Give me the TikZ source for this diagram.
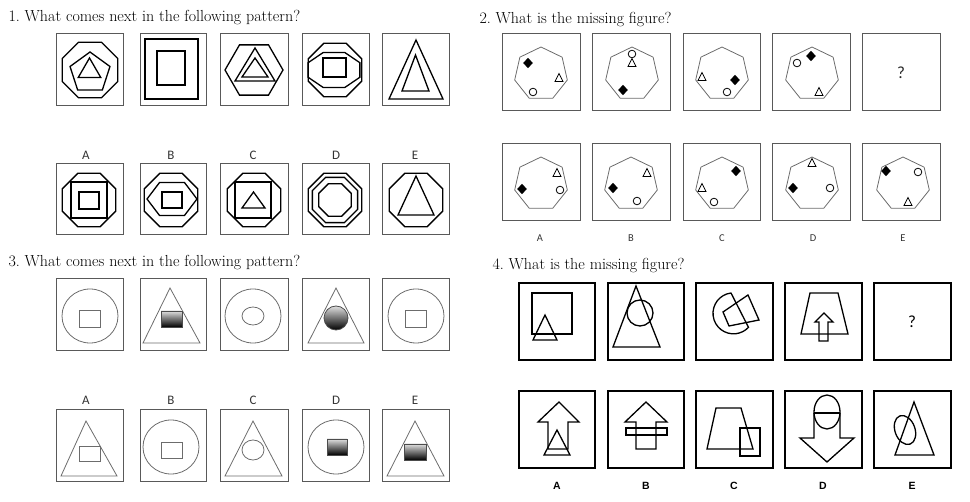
\documentclass[tikz,border=0pt]{standalone}
\usepackage{fontspec}
\newfontfamily\calib{Carlito}
\newfontfamily\arialb{Liberation Sans}
\usetikzlibrary{positioning}

% regular polygon: [style]{cx}{cy}{rx}{ry}{sides}{rotation}
\newcommand\ngon[7][]{\draw[#1] plot[samples at={0,...,#6}] ({#2+#4*cos(\x*360/#6+#7)},{#3+#5*sin(\x*360/#6+#7)}) -- cycle;}
\newcommand\diam[2]{\fill (#1,#2) +(-4.8,0) -- +(0,-5.2) -- +(4.8,0) -- +(0,5.2) -- cycle;}
\newcommand\ringmark[2]{\draw[symline] (#1,#2) circle (3.8);}
\newcommand\trimark[2]{\draw[symline] (#1,#2) +(0,-4.5) -- +(4,3.5) -- +(-4,3.5) -- cycle;}

\tikzset{
  figline/.style={line width=1.3pt, line join=miter},
  greyline/.style={gray!85!black, line width=0.8pt},
  symline/.style={line width=0.8pt},
  framebox/.style={draw=gray!70!black, line width=1pt},
  blackbox/.style={draw, line width=1.4pt},
  title/.style={anchor=west, font=\fontsize{16}{18}\selectfont},
  letter/.style={font=\calib\fontsize{13}{14}\selectfont, text=gray!40!black},
  bletter/.style={font=\arialb\bfseries\fontsize{10.5}{12}\selectfont},
  shadefill/.style={top color=gray!25, bottom color=black, draw=gray!60!black}
}

\begin{document}
\begin{tikzpicture}[x=1pt, y=-1pt]
\useasboundingbox (0,0) rectangle (970,502);

% titles
\node[title] (t1) at (5,18) {1.\ What comes next in the following pattern?};
\node[title] (t2) at (476,20) {2.\ What is the missing figure?};
\node[title] (t3) at (5,263) {3.\ What comes next in the following pattern?};
\node[title] (t4) at (489,266) {4.\ What is the missing figure?};

% frames
\foreach \xa/\xb in {56/123,140/206,220/288,302/369,382/449} {
  \draw[framebox] (\xa,34) rectangle (\xb,106);
  \draw[framebox] (\xa,164) rectangle (\xb,235);
  \draw[framebox] (\xa,279) rectangle (\xb,351);
  \draw[framebox] (\xa,410) rectangle (\xb,482);
}
\foreach \xa/\xb in {502/580,592/670,683/760,772/850,862/940} {
  \draw[framebox] (\xa,34) rectangle (\xb,111);
  \draw[framebox] (\xa,144) rectangle (\xb,221);
}
\foreach \xa/\xb in {519/595,608/684,696/773,785/862,874/951} {
  \draw[blackbox] (\xa,283) rectangle (\xb,360);
  \draw[blackbox] (\xa,391) rectangle (\xb,468);
}

% letters
\foreach \l/\lx [count=\i] in {A/86,B/171,C/253,D/336,E/415} {
  \node[letter] (a\i) at (\lx,155) {\l};
  \node[letter] (c\i) at (\lx,400) {\l};
}
\foreach \l/\lx [count=\i] in {A/540,B/631,C/722,D/813,E/903} {
  \node[letter, font=\calib\fontsize{10.5}{12}\selectfont] (b\i) at (\lx,238) {\l};
}
\foreach \l/\lx [count=\i] in {A/557,B/646,C/734,D/823,E/912} {
  \node[bletter] (d\i) at (\lx,486) {\l};
}
\node[font=\calib\fontsize{17}{18}\selectfont, text=gray!30!black] (q2) at (901,73) {?};
\node[font=\calib\fontsize{17}{18}\selectfont] (q4) at (912,322) {?};

% question 1
\begin{scope}[figline]
\ngon{90}{70}{30}{30}{8}{22.5}
\ngon{90}{73}{21}{21}{5}{-90}
\ngon{89.5}{71}{13}{13}{3}{-90}
\draw (145,39) rectangle (198,99);
\draw (157,51) rectangle (185,85);
\ngon{254}{70}{29}{29}{6}{0}
\draw (255,48) -- (275,81) -- (235,81) -- cycle;
\draw (255,58) -- (268,77) -- (242,77) -- cycle;
\ngon{335}{70}{29}{29}{8}{22.5}
\ngon{334}{70}{28}{19}{8}{22.5}
\draw (323,58) rectangle (346,77);
\draw (416,40) -- (443,99) -- (389,99) -- cycle;
\draw (415.5,55) -- (429,91) -- (402,91) -- cycle;
% answers
\ngon{89}{200}{29}{29}{8}{22.5}
\draw (71,182) rectangle (107,218);
\draw (79,192) rectangle (99,209);
\ngon{171}{200}{29}{29}{8}{22.5}
\ngon{172}{199}{25}{19}{6}{0}
\draw (162,192) rectangle (182,208);
\ngon{254}{200}{29}{29}{8}{22.5}
\draw (235,182) rectangle (271,218);
\draw (253.5,192) -- (265,208) -- (242,208) -- cycle;
\ngon{335}{200}{29}{29}{8}{22.5}
\ngon{335}{200}{24.5}{24.5}{8}{22.5}
\ngon{335}{200}{17.5}{17.5}{8}{22.5}
\ngon{416}{200}{29}{29}{8}{22.5}
\draw (416,176) -- (434,215) -- (398,215) -- cycle;
\end{scope}

% question 2
\foreach \hx in {541,632,722,812} {
  \ngon[greyline]{\hx}{74}{27}{27}{7}{-90}
}
\foreach \hx in {541,631,722,812,903} {
  \ngon[greyline]{\hx}{184}{27}{27}{7}{-90}
}
\diam{528}{63} \trimark{559}{78} \ringmark{533}{92}
\ringmark{632}{54} \trimark{632}{63} \diam{623}{90}
\trimark{702}{77} \diam{735}{80} \ringmark{727}{92}
\ringmark{797}{63} \diam{811}{56} \trimark{819}{92}
\trimark{557}{173} \ringmark{560}{190} \diam{522}{189}
\trimark{647}{173} \diam{613}{188} \ringmark{637}{201}
\diam{736}{171} \trimark{702}{188} \ringmark{714}{202}
\trimark{812}{163} \diam{793}{188} \ringmark{830}{188}
\diam{886}{171} \ringmark{918}{172} \trimark{908}{202}

% question 3
\begin{scope}[greyline]
\draw (90,316) ellipse (28 and 27);
\draw (79,310) rectangle (100,327);
\draw (170,288) -- (200,343) -- (143,343) -- cycle;
\shade[shadefill] (161,311) rectangle (182,327);
\draw (253,316) ellipse (28 and 27);
\draw (253,316) ellipse (11 and 9);
\draw (336,288) -- (364,343) -- (308,343) -- cycle;
\shade[shadefill] (336,318) circle (12);
\draw (416,316) ellipse (28 and 27);
\draw (405,310) rectangle (426,327);
% answers
\draw (86,421) -- (117,476) -- (61,476) -- cycle;
\draw (79,446) rectangle (100,461);
\draw (171,447) ellipse (28 and 27);
\draw (161,442) rectangle (182,458);
\draw (253,421) -- (282,476) -- (225,476) -- cycle;
\draw (253,450) ellipse (11 and 10);
\draw (336,447) ellipse (28 and 27);
\shade[shadefill] (327,439) rectangle (347,455);
\draw (415,421) -- (444,476) -- (387,476) -- cycle;
\shade[shadefill] (404,444) rectangle (426,460);
\end{scope}

% question 4
\begin{scope}[figline]
\draw (532,293) rectangle (572,334);
\draw (545,315) -- (557,340) -- (533,340) -- cycle;
\draw (636,286) -- (660,347) -- (613,347) -- cycle;
\draw (640,313) circle (13);
\draw (731,293) arc[start angle=263, end angle=43, radius=20.5] -- cycle;
\draw (723,312) -- (748,295) -- (759,320) -- (729,326) -- cycle;
\draw (810,293) -- (838,293) -- (848,334) -- (801,334) -- cycle;
\draw (824,313) -- (833,322) -- (828,322) -- (828,341) -- (819,341) -- (819,322) -- (815,322) -- cycle;
% answers
\draw (559,402) -- (579,422) -- (568,422) -- (568,449) -- (548,449) -- (548,422) -- (538,422) -- cycle;
\draw (557,430) -- (570,455) -- (544,455) -- cycle;
\draw (646,402) -- (667,422) -- (656,422) -- (656,449) -- (636,449) -- (636,422) -- (625,422) -- cycle;
\draw (626,428) rectangle (667,435);
\draw (716,408) -- (741,408) -- (753,449) -- (707,449) -- cycle;
\draw (740,428) rectangle (760,456);
\draw (827,412) ellipse (13 and 17);
\draw (814,413) -- (840,413);
\draw (814,413) -- (814,438) -- (800,438) -- (827,462) -- (854,438) -- (840,438) -- (840,413);
\draw (914,402) -- (934,455) -- (895,455) -- cycle;
\draw[rotate around={20:(905,430)}] (905,430) ellipse (10 and 15);
\end{scope}
\end{tikzpicture}
\end{document}
